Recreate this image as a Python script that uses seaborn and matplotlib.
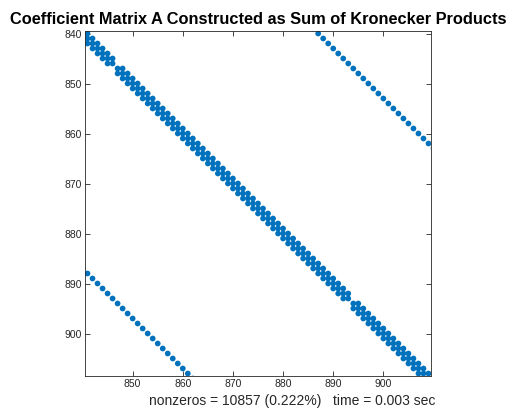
import numpy as np
import pandas as pd
import matplotlib
matplotlib.use("Agg")
import matplotlib.pyplot as plt
import seaborn as sns

# 2-D Poisson model problem on an n-by-n grid
grid_n = 47
elapsed_sec = 0.003

# window of the matrix that is displayed (1-based indices)
col_range = (840.5, 909.5)
row_range = (839.5, 908.5)
x_ticks = [850, 860, 870, 880, 890, 900]
y_ticks = [840, 850, 860, 870, 880, 890, 900]

title_text = "Coefficient Matrix A Constructed as Sum of Kronecker Products"

# A = kron(I, T) + kron(T, I), T = tridiag(-1, 2, -1)
T = 2 * np.eye(grid_n) - np.eye(grid_n, k=1) - np.eye(grid_n, k=-1)
I = np.eye(grid_n)
A = np.kron(I, T) + np.kron(T, I)

rows, cols = np.nonzero(A)
rows = rows + 1
cols = cols + 1
nnz = rows.size
density = 100.0 * nnz / A.size

nz = pd.DataFrame({"col": cols, "row": rows})
in_view = (
    (nz["col"] > col_range[0] - 1) & (nz["col"] < col_range[1] + 1)
    & (nz["row"] > row_range[0] - 1) & (nz["row"] < row_range[1] + 1)
)
nz = nz[in_view]

sns.set_theme(style="white")
plt.rcParams["font.family"] = ["Liberation Sans", "DejaVu Sans"]

fig = plt.figure(figsize=(5.14, 4.09), dpi=100)
ax = fig.add_axes([85 / 514, 1 - 376 / 409, 346 / 514, 345 / 409])

sns.scatterplot(data=nz, x="col", y="row", ax=ax, s=17, color="#0072BD",
                edgecolor="none", linewidth=0, legend=False)

ax.set_xlim(*col_range)
ax.set_ylim(row_range[1], row_range[0])
ax.set_xticks(x_ticks)
ax.set_yticks(y_ticks)

axis_col = "#262626"
for side in ["left", "bottom", "top", "right"]:
    ax.spines[side].set_visible(True)
    ax.spines[side].set_color(axis_col)
    ax.spines[side].set_linewidth(0.6)
ax.tick_params(axis="both", which="both", direction="in", length=3.5,
               width=0.6, color=axis_col, labelcolor=axis_col, labelsize=7.5,
               top=True, right=True, bottom=True, left=True,
               labeltop=False, labelright=False, pad=2.5)

ax.set_title(title_text, fontsize=11.8, fontweight="bold", color="black", pad=5)
ax.set_xlabel(f"nonzeros = {nnz} ({density:.3f}%)   time = {elapsed_sec:.3f} sec",
              fontsize=10, color=axis_col)
ax.xaxis.set_label_coords(0.598, -0.083)
ax.xaxis.label.set_va("baseline")
ax.set_ylabel("")

fig.savefig("out.png", dpi=100)
